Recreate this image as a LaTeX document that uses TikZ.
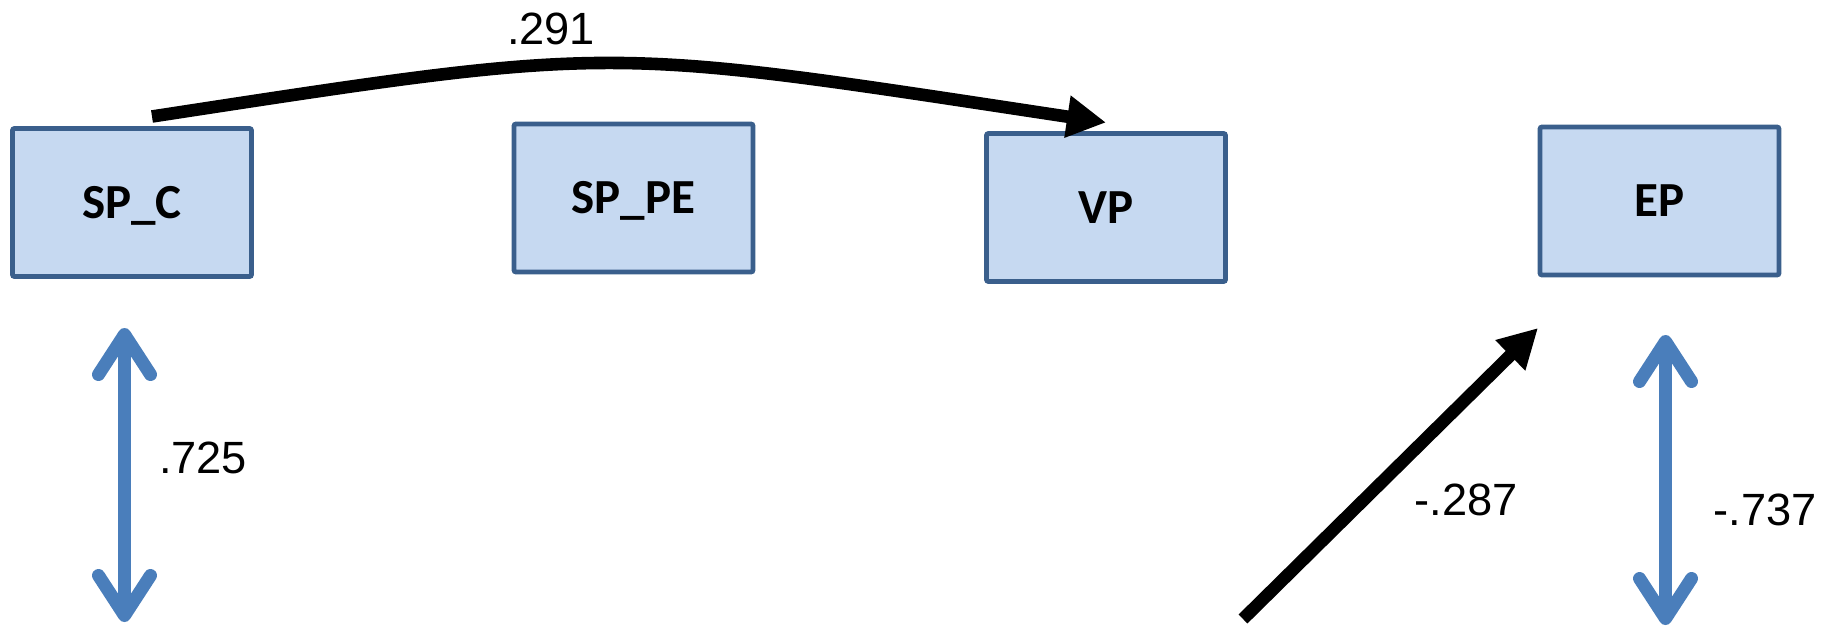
\documentclass[tikz,border=0pt]{standalone}
\usepackage{fontspec}
\setmainfont{Liberation Sans}
\newfontfamily\boxfont{Carlito}
\usetikzlibrary{arrows.meta}
\definecolor{boxfill}{HTML}{C6D9F1}
\definecolor{boxline}{HTML}{3A5F8C}
\definecolor{corrblue}{HTML}{4A7EBB}

\begin{document}
\begin{tikzpicture}[x=0.5pt, y=-0.5pt]
\tikzset{ inner sep=0pt, outer sep=0pt,
  var/.style={draw=boxline, fill=boxfill, line width=2.4pt, rounded corners=1pt,
    minimum width=119.5pt, minimum height=74pt,
    font=\boxfont\bfseries\fontsize{24.5}{24}\selectfont, text height=15.5pt, text depth=0pt},
  effect/.style={line width=6.3pt, -{Triangle[length=19.5pt, width=20pt]}},
  corr/.style={line width=6.5pt, corrblue,
    {Straight Barb[round, length=20pt, width=26pt]}-{Straight Barb[round, length=20pt, width=26pt]}},
  coef/.style={font=\fontsize{22.6}{26}\selectfont},
}

\useasboundingbox (0,0) rectangle (1825,627);

%\draw [lightgray, dashed](0,0) grid[step=100] (1825,627);

\node [var] (SPC)  at (132,202.5)  {SP\_C};
\node [var] (SPPE) at (633.5,198)  {SP\_PE};
\node [var] (VP)   at (1106,207.5) {VP};
\node [var] (EP)   at (1659.5,201) {EP};

\coordinate (C1) at (124.5,328);
\coordinate (C2) at (124.5,622);
\coordinate (E1) at (1665.5,335);
\coordinate (E2) at (1665.5,625);
\coordinate (D0) at (1243,619);
\coordinate (D1) at (1538,328);

\draw [effect] ([xshift=10pt, yshift=6pt]SPC.north) .. controls (625,44) and (600,46) .. ([yshift=5.5pt]VP.north);
\draw [effect] (D0) -- (D1);

\draw [corr] (C1) -- (C2);
\draw [corr] (E1) -- (E2);

\node [coef] (k291) at (551,29)   {.291};
\node [coef] (k725) at (203,458)  {.725};
\node [coef] (k287) at (1466,500) {-.287};
\node [coef] (k737) at (1765,510) {-.737};

\end{tikzpicture}
\end{document}
